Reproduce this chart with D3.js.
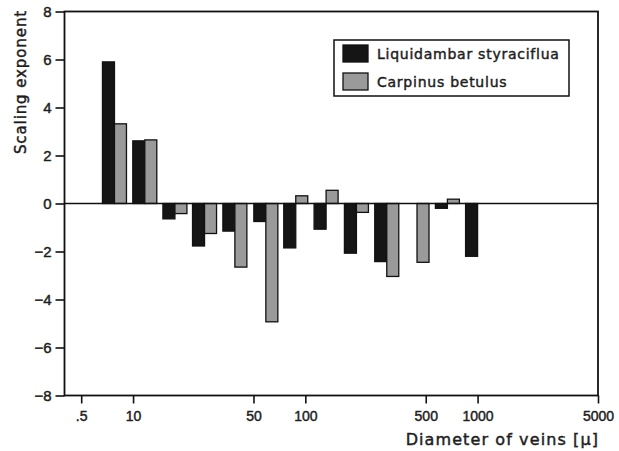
<!DOCTYPE html>
<html>
<head>
<meta charset="utf-8">
<script src="https://cdn.jsdelivr.net/npm/d3@7"></script>
<style>
  html, body { margin: 0; padding: 0; background: #fff; }
  svg { display: block; font-family: "DejaVu Sans", sans-serif; }
</style>
</head>
<body>
<svg id="chart" width="619" height="451"></svg>
<script>
// Bin centres (vein diameter, µ)
const diameters = [7.8, 11.7, 17.5, 26, 39, 59, 88, 132, 198, 297, 445, 668, 1000];
const liquidambar = [5.9, 2.61, -0.64, -1.77, -1.15, -0.75, -1.85, -1.07, -2.07, -2.42, null, -0.2, -2.2];
const carpinus = [3.32, 2.65, -0.42, -1.25, -2.65, -4.93, 0.32, 0.55, -0.37, -3.04, -2.45, 0.18, null];
const seriesNames = ["Liquidambar styraciflua", "Carpinus betulus"];
const xTickValues = [5, 10, 50, 100, 500, 1000, 5000];
const xTickLabels = [".5", "10", "50", "100", "500", "1000", "5000"];
const yTickValues = [-8, -6, -4, -2, 0, 2, 4, 6, 8];

const svg = d3.select("#chart");
const L = 64.5, R = 598, T = 11.5, B = 395.5;
const x = d3.scaleLog().domain([4, 5000]).range([L, R]);
const y = d3.scaleLinear().domain([-8, 8]).range([B, T]);
const barW = 12;
const colors = ["#151515", "#9a9a9a"];
const ink = "#1e1e1e";

// bars
const series = [liquidambar, carpinus];
series.forEach((vals, si) => {
  svg.append("g").selectAll("rect")
    .data(diameters.map((d, i) => ({d, v: vals[i]})).filter(o => o.v !== null))
    .join("rect")
    .attr("x", o => x(o.d) - (si === 0 ? barW : 0))
    .attr("width", barW)
    .attr("y", o => Math.min(y(o.v), y(0)))
    .attr("height", o => Math.abs(y(o.v) - y(0)))
    .attr("fill", colors[si])
    .attr("stroke", "#111")
    .attr("stroke-width", 1.3);
});

// zero line
svg.append("line")
  .attr("x1", L).attr("x2", R)
  .attr("y1", y(0)).attr("y2", y(0))
  .attr("stroke", "#111").attr("stroke-width", 1.5);

// frame
svg.append("rect")
  .attr("x", L).attr("y", T).attr("width", R - L).attr("height", B - T)
  .attr("fill", "none").attr("stroke", "#111").attr("stroke-width", 1.8);

function medium(sel) {
  sel.attr("fill", ink).attr("stroke", ink).attr("stroke-width", 0.45);
}

// y axis
const yAxis = d3.axisLeft(y).tickValues(yTickValues).tickSize(9).tickPadding(4)
  .tickFormat(d => d < 0 ? "\u2212" + Math.abs(d) : d);
const gy = svg.append("g").attr("transform", `translate(${L},0)`).call(yAxis);
gy.select(".domain").remove();
gy.selectAll("line").attr("stroke", "#111").attr("stroke-width", 1.6);
gy.selectAll("text").attr("font-size", 15).call(medium);

// x axis
const xAxis = d3.axisBottom(x).tickValues(xTickValues).tickSize(8).tickPadding(8)
  .tickFormat((d, i) => xTickLabels[i]);
const gx = svg.append("g").attr("transform", `translate(0,${B})`).call(xAxis);
gx.select(".domain").remove();
gx.selectAll("line").attr("stroke", "#111").attr("stroke-width", 1.6);
gx.selectAll("text").attr("font-size", 14).call(medium);

// axis titles
svg.append("text")
  .attr("transform", "translate(26,82) rotate(-90)")
  .attr("text-anchor", "middle")
  .attr("font-size", 15)
  .attr("letter-spacing", 0.9)
  .call(medium)
  .text("Scaling exponent");
svg.append("text")
  .attr("x", R + 1).attr("y", 445)
  .attr("text-anchor", "end")
  .attr("font-size", 16)
  .attr("letter-spacing", 1.1)
  .call(medium)
  .text("Diameter of veins [\u03bc]");

// legend
const lg = svg.append("g");
lg.append("rect").attr("x", 334).attr("y", 40).attr("width", 235).attr("height", 56)
  .attr("fill", "#fff").attr("stroke", "#111").attr("stroke-width", 1.5);
seriesNames.forEach((name, i) => {
  lg.append("rect").attr("x", 343).attr("y", 45 + i * 28).attr("width", 25).attr("height", 17)
    .attr("fill", colors[i]).attr("stroke", "#111").attr("stroke-width", 1.3);
  lg.append("text").attr("x", 377).attr("y", 59 + i * 28)
    .attr("font-size", 14).attr("letter-spacing", 0.75)
    .call(medium)
    .text(name);
});
</script>
</body>
</html>
